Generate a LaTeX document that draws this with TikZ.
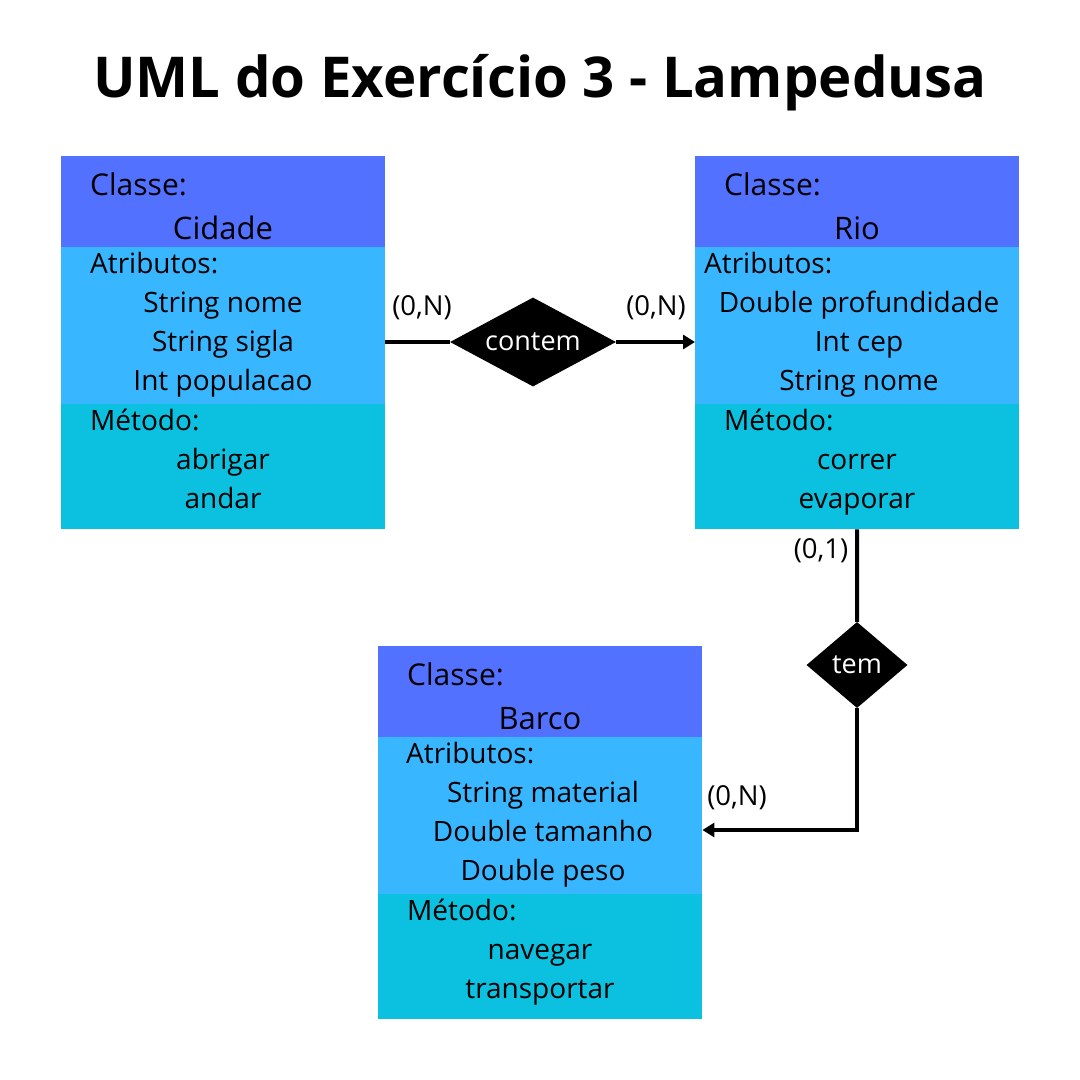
\documentclass[tikz,border=0pt]{standalone}
\usepackage{fontspec}
\setmainfont{Open Sans}
\usetikzlibrary{positioning, arrows.meta, shapes.geometric}
\definecolor{cabcol}{HTML}{5271FF}
\definecolor{atrcol}{HTML}{38B6FF}
\definecolor{metcol}{HTML}{0CC0DF}

\begin{document}
\begin{tikzpicture}[x=1pt, y=-1pt,
      cab/.style={rectangle, fill=cabcol, minimum width=324pt, minimum height=91pt, inner sep=0pt, anchor=north west},
      atr/.style={rectangle, fill=atrcol, minimum width=324pt, minimum height=157pt, inner sep=0pt, anchor=north west},
      met/.style={rectangle, fill=metcol, minimum width=324pt, minimum height=125pt, inner sep=0pt, anchor=north west},
      rot/.style={anchor=base west, inner sep=0pt, font=\fontsize{28}{33}\selectfont},
      nom/.style={anchor=base, inner sep=0pt, font=\fontsize{31}{36}\selectfont},
      lin/.style={anchor=base, inner sep=0pt, font=\fontsize{28}{33}\selectfont},
      rel/.style={diamond, fill=black, text=white, inner sep=0pt, aspect=1.87, minimum width=166pt, minimum height=89pt, font=\fontsize{27}{32}\selectfont},
      card/.style={inner sep=0pt, font=\fontsize{27.5}{32}\selectfont},
      edge/.style={line width=4pt, black},
      seta/.style={-{Triangle[length=12pt, width=14pt]}}]

      \useasboundingbox[fill=white] (0,0) rectangle (1080,1080);

      \node[anchor=base, inner sep=0pt, font=\fontsize{56.3}{64}\selectfont\bfseries] (titulo) at (540,97) {UML do Exercício 3 - Lampedusa};

      % Classe Cidade (esquerda)
      \node[cab] (cidC) at (61,156) {};
      \node[atr] (cidA) at (61,247) {};
      \node[met] (cidM) at (61,404) {};
      \node[rot, font=\fontsize{30}{36}\selectfont] (c1) at (90,195) {Classe:};
      \node[nom] (c2) at (223,239) {Cidade};
      \node[rot] (c3) at (90,273) {Atributos:};
      \node[lin] (c4) at (223,312) {String nome};
      \node[lin] (c5) at (223,351) {String sigla};
      \node[lin] (c6) at (223,390) {Int populacao};
      \node[rot] (c7) at (90,430) {Método:};
      \node[lin] (c8) at (223,469) {abrigar};
      \node[lin] (c9) at (223,508) {andar};

      % Classe Rio (direita)
      \node[cab] (rioC) at (695,156) {};
      \node[atr] (rioA) at (695,247) {};
      \node[met] (rioM) at (695,404) {};
      \node[rot, font=\fontsize{30}{36}\selectfont] (r1) at (724,195) {Classe:};
      \node[nom] (r2) at (857,239) {Rio};
      \node[rot] (r3) at (704,273) {Atributos:};
      \node[lin] (r4) at (859,312) {Double profundidade};
      \node[lin] (r5) at (859,351) {Int cep};
      \node[lin] (r6) at (859,390) {String nome};
      \node[rot] (r7) at (724,430) {Método:};
      \node[lin] (r8) at (857,469) {correr};
      \node[lin] (r9) at (857,508) {evaporar};

      % Classe Barco (baixo)
      \node[cab] (barC) at (378,646) {};
      \node[atr] (barA) at (378,737) {};
      \node[met] (barM) at (378,894) {};
      \node[rot, font=\fontsize{30}{36}\selectfont] (b1) at (407,685) {Classe:};
      \node[nom] (b2) at (540,729) {Barco};
      \node[rot] (b3) at (406,763) {Atributos:};
      \node[lin] (b4) at (543,802) {String material};
      \node[lin] (b5) at (543,841) {Double tamanho};
      \node[lin] (b6) at (543,880) {Double peso};
      \node[rot] (b7) at (407,920) {Método:};
      \node[lin] (b8) at (540,959) {navegar};
      \node[lin] (b9) at (540,998) {transportar};

      % Relacoes
      \node[rel] (contem) at (533,342) {contem};
      \node[rel, aspect=1.17, minimum width=101pt, minimum height=86pt] (tem) at (857,665) {tem};
      \coordinate (dobra) at (857,830);

      \draw[edge] (cidA.east |- contem.west) -- (contem.west);
      \draw[edge, seta] (contem.east) -- (rioA.west |- contem.east);
      \draw[edge] (rioM.south) -- (tem.north);
      \draw[edge, seta] (tem.south) -- (dobra) -- (dobra -| barA.east);

      % Cardinalidades
      \node[card] (k1) at (422,308) {(0,N)};
      \node[card] (k2) at (656,308) {(0,N)};
      \node[card] (k3) at (821,551) {(0,1)};
      \node[card] (k4) at (737,798) {(0,N)};
    \end{tikzpicture}
\end{document}
